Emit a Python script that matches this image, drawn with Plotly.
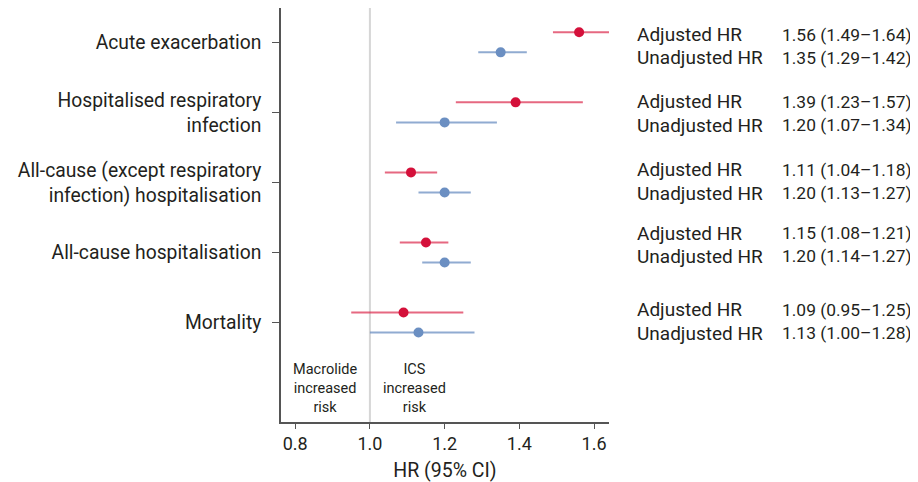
import plotly.graph_objects as go

categories = ["Acute exacerbation", "Hospitalised respiratory<br>infection",
              "All-cause (except respiratory<br>infection) hospitalisation",
              "All-cause hospitalisation", "Mortality"]
adj_hr = [1.56, 1.39, 1.11, 1.15, 1.09]
adj_lo = [1.49, 1.23, 1.04, 1.08, 0.95]
adj_hi = [1.64, 1.57, 1.18, 1.21, 1.25]
unadj_hr = [1.35, 1.20, 1.20, 1.20, 1.13]
unadj_lo = [1.29, 1.07, 1.13, 1.14, 1.00]
unadj_hi = [1.42, 1.34, 1.27, 1.27, 1.28]
x_ticks = [0.8, 1.0, 1.2, 1.4, 1.6]
x_tick_text = ["0.8", "1.0", "1.2", "1.4", "1.6"]

# layout-only: vertical shift of each right-hand text block (in category units)
text_shift = [0.056, 0.016, -0.013, -0.11, -0.013]

FONT = "Roboto"
TXT = "#231f20"
RED = "#d4103a"
BLUE = "#6b8fc2"
OFF = 0.143
HALF = 0.166
pos = list(range(len(categories)))

fig = go.Figure()
fig.add_shape(type="line", x0=1.0, x1=1.0, xref="x", yref="paper", y0=0, y1=1,
              line=dict(color="#d6d6d6", width=2), layer="below")

fig.add_trace(go.Scatter(
    x=adj_hr, y=[p - OFF for p in pos], mode="markers",
    marker=dict(color=RED, size=10),
    error_x=dict(type="data", symmetric=False,
                 array=[h - v for h, v in zip(adj_hi, adj_hr)],
                 arrayminus=[v - l for v, l in zip(adj_hr, adj_lo)],
                 color="rgba(220,40,75,0.7)", thickness=2, width=0),
    showlegend=False))
fig.add_trace(go.Scatter(
    x=unadj_hr, y=[p + OFF for p in pos], mode="markers",
    marker=dict(color=BLUE, size=10),
    error_x=dict(type="data", symmetric=False,
                 array=[h - v for h, v in zip(unadj_hi, unadj_hr)],
                 arrayminus=[v - l for v, l in zip(unadj_hr, unadj_lo)],
                 color="rgba(107,143,194,0.75)", thickness=2, width=0),
    showlegend=False))

lab_font = dict(family=FONT, size=19, color=TXT)
val_font = dict(family=FONT, size=17.4, color=TXT)
ann = []
for i in pos:
    yc = i + text_shift[i]
    ann.append(dict(x=1.079, y=yc - HALF, xref="paper", yref="y", text="Adjusted HR",
                    showarrow=False, xanchor="left", yanchor="middle", font=lab_font))
    ann.append(dict(x=1.079, y=yc + HALF, xref="paper", yref="y", text="Unadjusted HR",
                    showarrow=False, xanchor="left", yanchor="middle", font=lab_font))
    ann.append(dict(x=1.521, y=yc - HALF, xref="paper", yref="y",
                    text=f"{adj_hr[i]:.2f} ({adj_lo[i]:.2f}\u2013{adj_hi[i]:.2f})",
                    showarrow=False, xanchor="left", yanchor="middle", font=val_font))
    ann.append(dict(x=1.521, y=yc + HALF, xref="paper", yref="y",
                    text=f"{unadj_hr[i]:.2f} ({unadj_lo[i]:.2f}\u2013{unadj_hi[i]:.2f})",
                    showarrow=False, xanchor="left", yanchor="middle", font=val_font))
note_font = dict(family=FONT, size=14.5, color=TXT)
ann.append(dict(x=0.88, y=4.94, xref="x", yref="y", text="Macrolide<br>increased<br>risk",
                showarrow=False, font=note_font))
ann.append(dict(x=1.12, y=4.94, xref="x", yref="y", text="ICS<br>increased<br>risk",
                showarrow=False, font=note_font))

fig.update_layout(
    width=910, height=474, margin=dict(l=273, r=309, t=0, b=60),
    paper_bgcolor="white", plot_bgcolor="white",
    font=dict(family=FONT, size=17, color=TXT),
    annotations=ann,
    xaxis=dict(range=[0.762, 1.64], tickvals=x_ticks, ticktext=x_tick_text,
               showgrid=False, zeroline=False, showline=True, linecolor="#555",
               linewidth=1.5, ticks="outside", ticklen=5, tickcolor="#555",
               tickfont=dict(size=18),
               title=dict(text="HR (95% CI)", font=dict(size=19.5), standoff=10)),
    yaxis=dict(range=[5.42, -0.49], tickvals=pos, ticktext=categories,
               showgrid=False, zeroline=False, showline=True, linecolor="#555",
               linewidth=1.5, ticks="outside", ticklen=7, tickcolor="#555",
               ticklabelstandoff=7, tickfont=dict(size=19.3)),
)
fig.write_html("out.html")
